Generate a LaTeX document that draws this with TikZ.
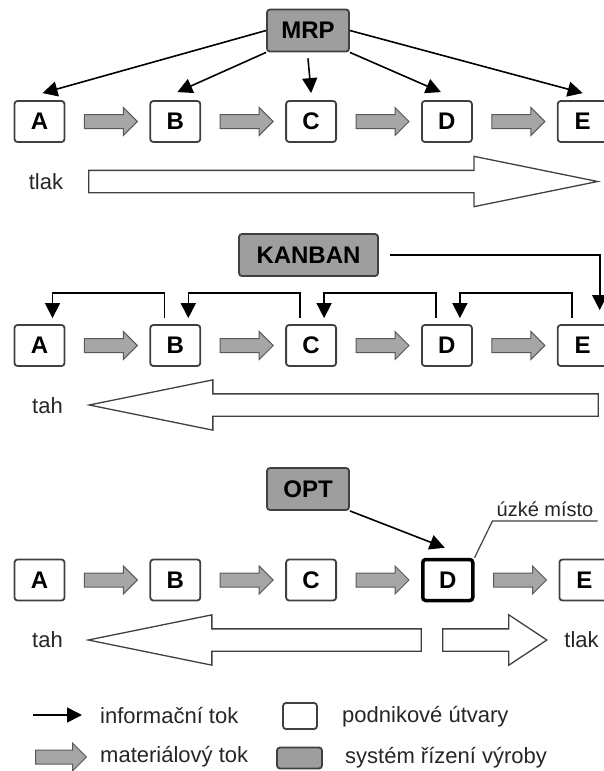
\documentclass[tikz,border=0pt]{standalone}
\usepackage{fontspec}
\setmainfont{Liberation Sans}
\usepackage{tikz}
\usetikzlibrary{arrows.meta, positioning, shapes.arrows}

\begin{document}
\begin{tikzpicture}[x=1pt, y=-1pt, >={Triangle[length=15pt, width=15pt]}, node distance=84pt,
  unit/.style={draw=black!75, line width=1.8pt, rounded corners=3pt, fill=white, minimum width=50pt, minimum height=41pt, inner sep=0pt, font=\bfseries\fontsize{24}{24}\selectfont},
  sys/.style={unit, fill=black!38, minimum height=42pt},
  info/.style={->, line width=1.6pt},
  mat/.style={single arrow, draw=black!65, fill=black!35, line width=1pt, minimum height=53pt, inner xsep=0pt, inner ysep=6.5pt, single arrow head extend=7pt},
  flow/.style={single arrow, draw=black!75, fill=white, line width=1.3pt, inner xsep=0pt, inner ysep=10.5pt, single arrow head extend=14pt, single arrow tip angle=23},
  lbl/.style={font=\fontsize{22}{22}\selectfont, text=black!85, inner sep=1pt}]
  \useasboundingbox (0,0) rectangle (603,771);

  % MRP: tlak
  \node[sys, minimum width=82pt] (mrp) at (308,30.5) {MRP};
  \node[unit] (a1) at (39.5,121.5) {A};
  \node[unit, right=of a1] (b1) {B};
  \node[unit, right=of b1] (c1) {C};
  \node[unit, right=of c1] (d1) {D};
  \node[unit, right=of d1] (e1) {E};
  \draw[info] (mrp.west) -- ([xshift=3pt, yshift=7pt]a1.north);
  \draw[info] (mrp.south west) -- ([xshift=2pt, yshift=8pt]b1.north);
  \draw[info] ([yshift=-6pt]mrp.south) -- ([yshift=7pt]c1.north);
  \draw[info] (mrp.south east) -- ([xshift=-6pt, yshift=8pt]d1.north);
  \draw[info] (mrp.east) -- ([yshift=7pt]e1.north);
  \path (a1) -- node[mat] (ab1) {} (b1);
  \path (b1) -- node[mat] (bc1) {} (c1);
  \path (c1) -- node[mat] (cd1) {} (d1);
  \path (d1) -- node[mat] (de1) {} (e1);
  \node[flow, minimum height=509pt, anchor=tail] (push1) at (88,181.5) {};
  \node[lbl] (tlak1) at (46,181.5) {tlak};

  % KANBAN: tah
  \node[sys, minimum width=139pt] (kanban) at (308.5,255) {KANBAN};
  \node[unit] (a2) at (39.5,345.5) {A};
  \node[unit, right=of a2] (b2) {B};
  \node[unit, right=of b2] (c2) {C};
  \node[unit, right=of c2] (d2) {D};
  \node[unit, right=of d2] (e2) {E};
  \draw[info] ([xshift=11pt]kanban.east) -| ([xshift=17pt, yshift=14pt]e2.north);
  \draw[info] ([xshift=-11pt, yshift=6pt]b2.north) -- ++(0,-25) -| ([xshift=13pt, yshift=6pt]a2.north);
  \draw[info] ([xshift=-11pt, yshift=6pt]c2.north) -- ++(0,-25) -| ([xshift=13pt, yshift=6pt]b2.north);
  \draw[info] ([xshift=-11pt, yshift=6pt]d2.north) -- ++(0,-25) -| ([xshift=13pt, yshift=6pt]c2.north);
  \draw[info] ([xshift=-11pt, yshift=6pt]e2.north) -- ++(0,-25) -| ([xshift=13pt, yshift=6pt]d2.north);
  \path (a2) -- node[mat] (ab2) {} (b2);
  \path (b2) -- node[mat] (bc2) {} (c2);
  \path (c2) -- node[mat] (cd2) {} (d2);
  \path (d2) -- node[mat] (de2) {} (e2);
  \node[flow, minimum height=509pt, shape border rotate=180, anchor=tip] (pull2) at (86,405) {};
  \node[lbl] (tah2) at (47.5,406) {tah};

  % OPT: tah + tlak
  \node[sys, minimum width=82pt] (opt) at (308,489) {OPT};
  \node[unit] (a3) at (39.5,580) {A};
  \node[unit, right=of a3] (b3) {B};
  \node[unit, right=of b3] (c3) {C};
  \node[unit, right=of c3, draw=black, line width=3.5pt] (d3) {D};
  \node[unit, right=of d3] (e3) {E};
  \draw[info] (opt.south east) -- ([xshift=-3pt, yshift=10pt]d3.north);
  \node[font=\fontsize{20}{20}\selectfont, text=black!85, anchor=south, inner xsep=4pt, inner ysep=4pt] (uzke) at (545,521) {úzké místo};
  \draw[line width=1.2pt, black!75] (d3.north east) -- (uzke.south west) -- (uzke.south east);
  \path (a3) -- node[mat] (ab3) {} (b3);
  \path (b3) -- node[mat] (bc3) {} (c3);
  \path (c3) -- node[mat] (cd3) {} (d3);
  \path (d3) -- node[mat] (de3) {} (e3);
  \node[flow, minimum height=333pt, shape border rotate=180, anchor=tip] (pull3) at (85,640) {};
  \node[flow, minimum height=104pt, single arrow tip angle=67, anchor=tip] (push3) at (548,640) {};
  \node[lbl] (tah3) at (47.5,640) {tah};
  \node[lbl] (tlak3) at (581.5,640) {tlak};

  % legenda
  \coordinate (li0) at (33,715);
  \coordinate (li1) at (82,715);
  \draw[info] (li0) -- (li1);
  \node[lbl, anchor=west] (linfo) at (99,715) {informační tok};
  \node[mat, minimum height=51pt] (lmat) at (57.5,757) {};
  \node[lbl, anchor=west] (lmatt) at (99,757) {materiálový tok};
  \node[unit, minimum width=34pt, minimum height=26pt] (lunit) at (300,716) {};
  \node[sys, minimum width=45pt, minimum height=21pt] (lsys) at (299.5,758) {};
  \node[lbl, anchor=west] (lunitt) at (341,717) {podnikové útvary};
  \node[lbl, anchor=west] (lsyst) at (344,758) {systém řízení výroby};
\end{tikzpicture}
\end{document}
